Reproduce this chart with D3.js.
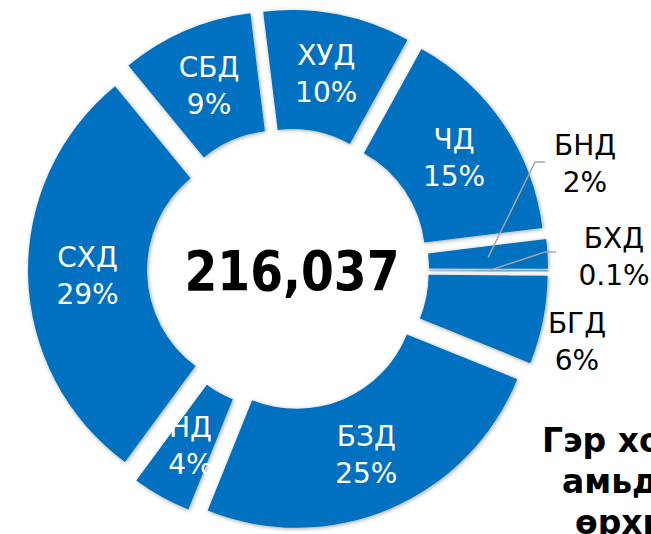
<!DOCTYPE html>
<html>
<head>
<meta charset="utf-8">
<script src="https://cdn.jsdelivr.net/npm/d3@7"></script>
<style>
  html, body { margin: 0; padding: 0; background: #fff; overflow: hidden; }
  svg { display: block; font-family: "DejaVu Sans", sans-serif; }
</style>
</head>
<body>
<svg id="chart" width="651" height="534"></svg>
<script>
// districts, clockwise from the top
const districts = ['ХУД', 'ЧД', 'БНД', 'БХД', 'БГД', 'БЗД', 'НД', 'СХД', 'СБД']
const shares = [10, 15, 2, 0.1, 6, 25, 4, 29, 9]
const shareLabels = ['10%', '15%', '2%', '0.1%', '6%', '25%', '4%', '29%', '9%']
const total = '216,037'
const titleLines = ['Гэр хорооллын', 'амьдардаг', 'өрхийн']

// small slices get their label outside, with a leader line
const outside = {
    'БНД': {x: 585, y: 155, elbow: [535, 162], start: [545, 162]},
    'БХД': {x: 614, y: 248, elbow: [545, 252], start: [556, 252]},
    'БГД': {x: 577, y: 333}
}

const width = 651, height = 534
const cx = 288, cy = 269.6
const outerR = 238, innerR = 119
const explode = 22
const blue = '#0070C0'

const svg = d3.select('#chart')

const defs = svg.append('defs')
const shadow = defs.append('filter').attr('id', 'shadow')
    .attr('x', '-20%').attr('y', '-20%').attr('width', '140%').attr('height', '140%')
shadow.append('feDropShadow')
    .attr('dx', 1).attr('dy', 1).attr('stdDeviation', 2.2)
    .attr('flood-color', '#000').attr('flood-opacity', 0.35)

const start = -7 * Math.PI / 180
const pie = d3.pie().sort(null).value(d => d.value)
    .startAngle(start).endAngle(start + 2 * Math.PI)
const data = pie(districts.map((name, i) => ({name, value: shares[i], pct: shareLabels[i]})))

const arc = d3.arc().innerRadius(innerR).outerRadius(outerR)

const g = svg.append('g').attr('transform', `translate(${cx},${cy})`)

function shift(d) {
    const a = (d.startAngle + d.endAngle) / 2
    return [explode * Math.sin(a), -explode * Math.cos(a)]
}

g.selectAll('path.slice')
    .data(data)
    .enter()
    .append('path')
    .attr('class', 'slice')
    .attr('d', arc)
    .attr('fill', blue)
    .attr('filter', 'url(#shadow)')
    .attr('transform', d => `translate(${shift(d)})`)

// thin slices: redraw without shadow so they stay crisp
g.selectAll('path.thin')
    .data(data.filter(d => d.value < 1))
    .enter()
    .append('path')
    .attr('d', arc)
    .attr('fill', blue)
    .attr('stroke', '#c8c8c8')
    .attr('stroke-width', 1)
    .attr('transform', d => `translate(${shift(d)})`)

// inside labels
const inner = data.filter(d => !outside[d.data.name])
const labels = g.selectAll('g.lbl')
    .data(inner)
    .enter()
    .append('g')
    .attr('class', 'lbl')
    .attr('transform', d => {
        const c = arc.centroid(d), s = shift(d)
        return `translate(${c[0] + s[0]},${c[1] + s[1]})`
    })
labels.append('text')
    .attr('y', -8)
    .attr('text-anchor', 'middle')
    .attr('fill', '#fff')
    .style('font-size', '28px')
    .text(d => d.data.name)
labels.append('text')
    .attr('y', 29)
    .attr('text-anchor', 'middle')
    .attr('fill', '#fff')
    .style('font-size', '28px')
    .text(d => d.data.pct)

// leader lines and outside labels
data.filter(d => outside[d.data.name]).forEach(d => {
    const o = outside[d.data.name]
    if (o.elbow) {
        const c = arc.centroid(d), s = shift(d)
        const p = [c[0] + s[0] + cx, c[1] + s[1] + cy]
        svg.append('polyline')
            .attr('points', [o.start, o.elbow, p].map(q => q.join(',')).join(' '))
            .attr('fill', 'none')
            .attr('stroke', '#a6a6a6')
            .attr('stroke-width', 1.5)
    }
    svg.append('text')
        .attr('x', o.x).attr('y', o.y)
        .attr('text-anchor', 'middle')
        .style('font-size', '28px')
        .attr('fill', '#000')
        .text(d.data.name)
    svg.append('text')
        .attr('x', o.x).attr('y', o.y + 37)
        .attr('text-anchor', 'middle')
        .style('font-size', '28px')
        .attr('fill', '#000')
        .text(d.data.pct)
})

// total in the hole
svg.append('text')
    .attr('x', 292).attr('y', 290)
    .attr('text-anchor', 'middle')
    .attr('textLength', 215)
    .attr('lengthAdjust', 'spacingAndGlyphs')
    .style('font-size', '55px')
    .style('font-weight', 'bold')
    .text(total)

// title, cut by the right edge as in the source
const titleX = [542, 562, 575]
titleLines.forEach((t, i) => {
    svg.append('text')
        .attr('x', titleX[i]).attr('y', 452 + i * 41)
        .style('font-size', '33px')
        .style('font-weight', 'bold')
        .text(t)
})
</script>
</body>
</html>
